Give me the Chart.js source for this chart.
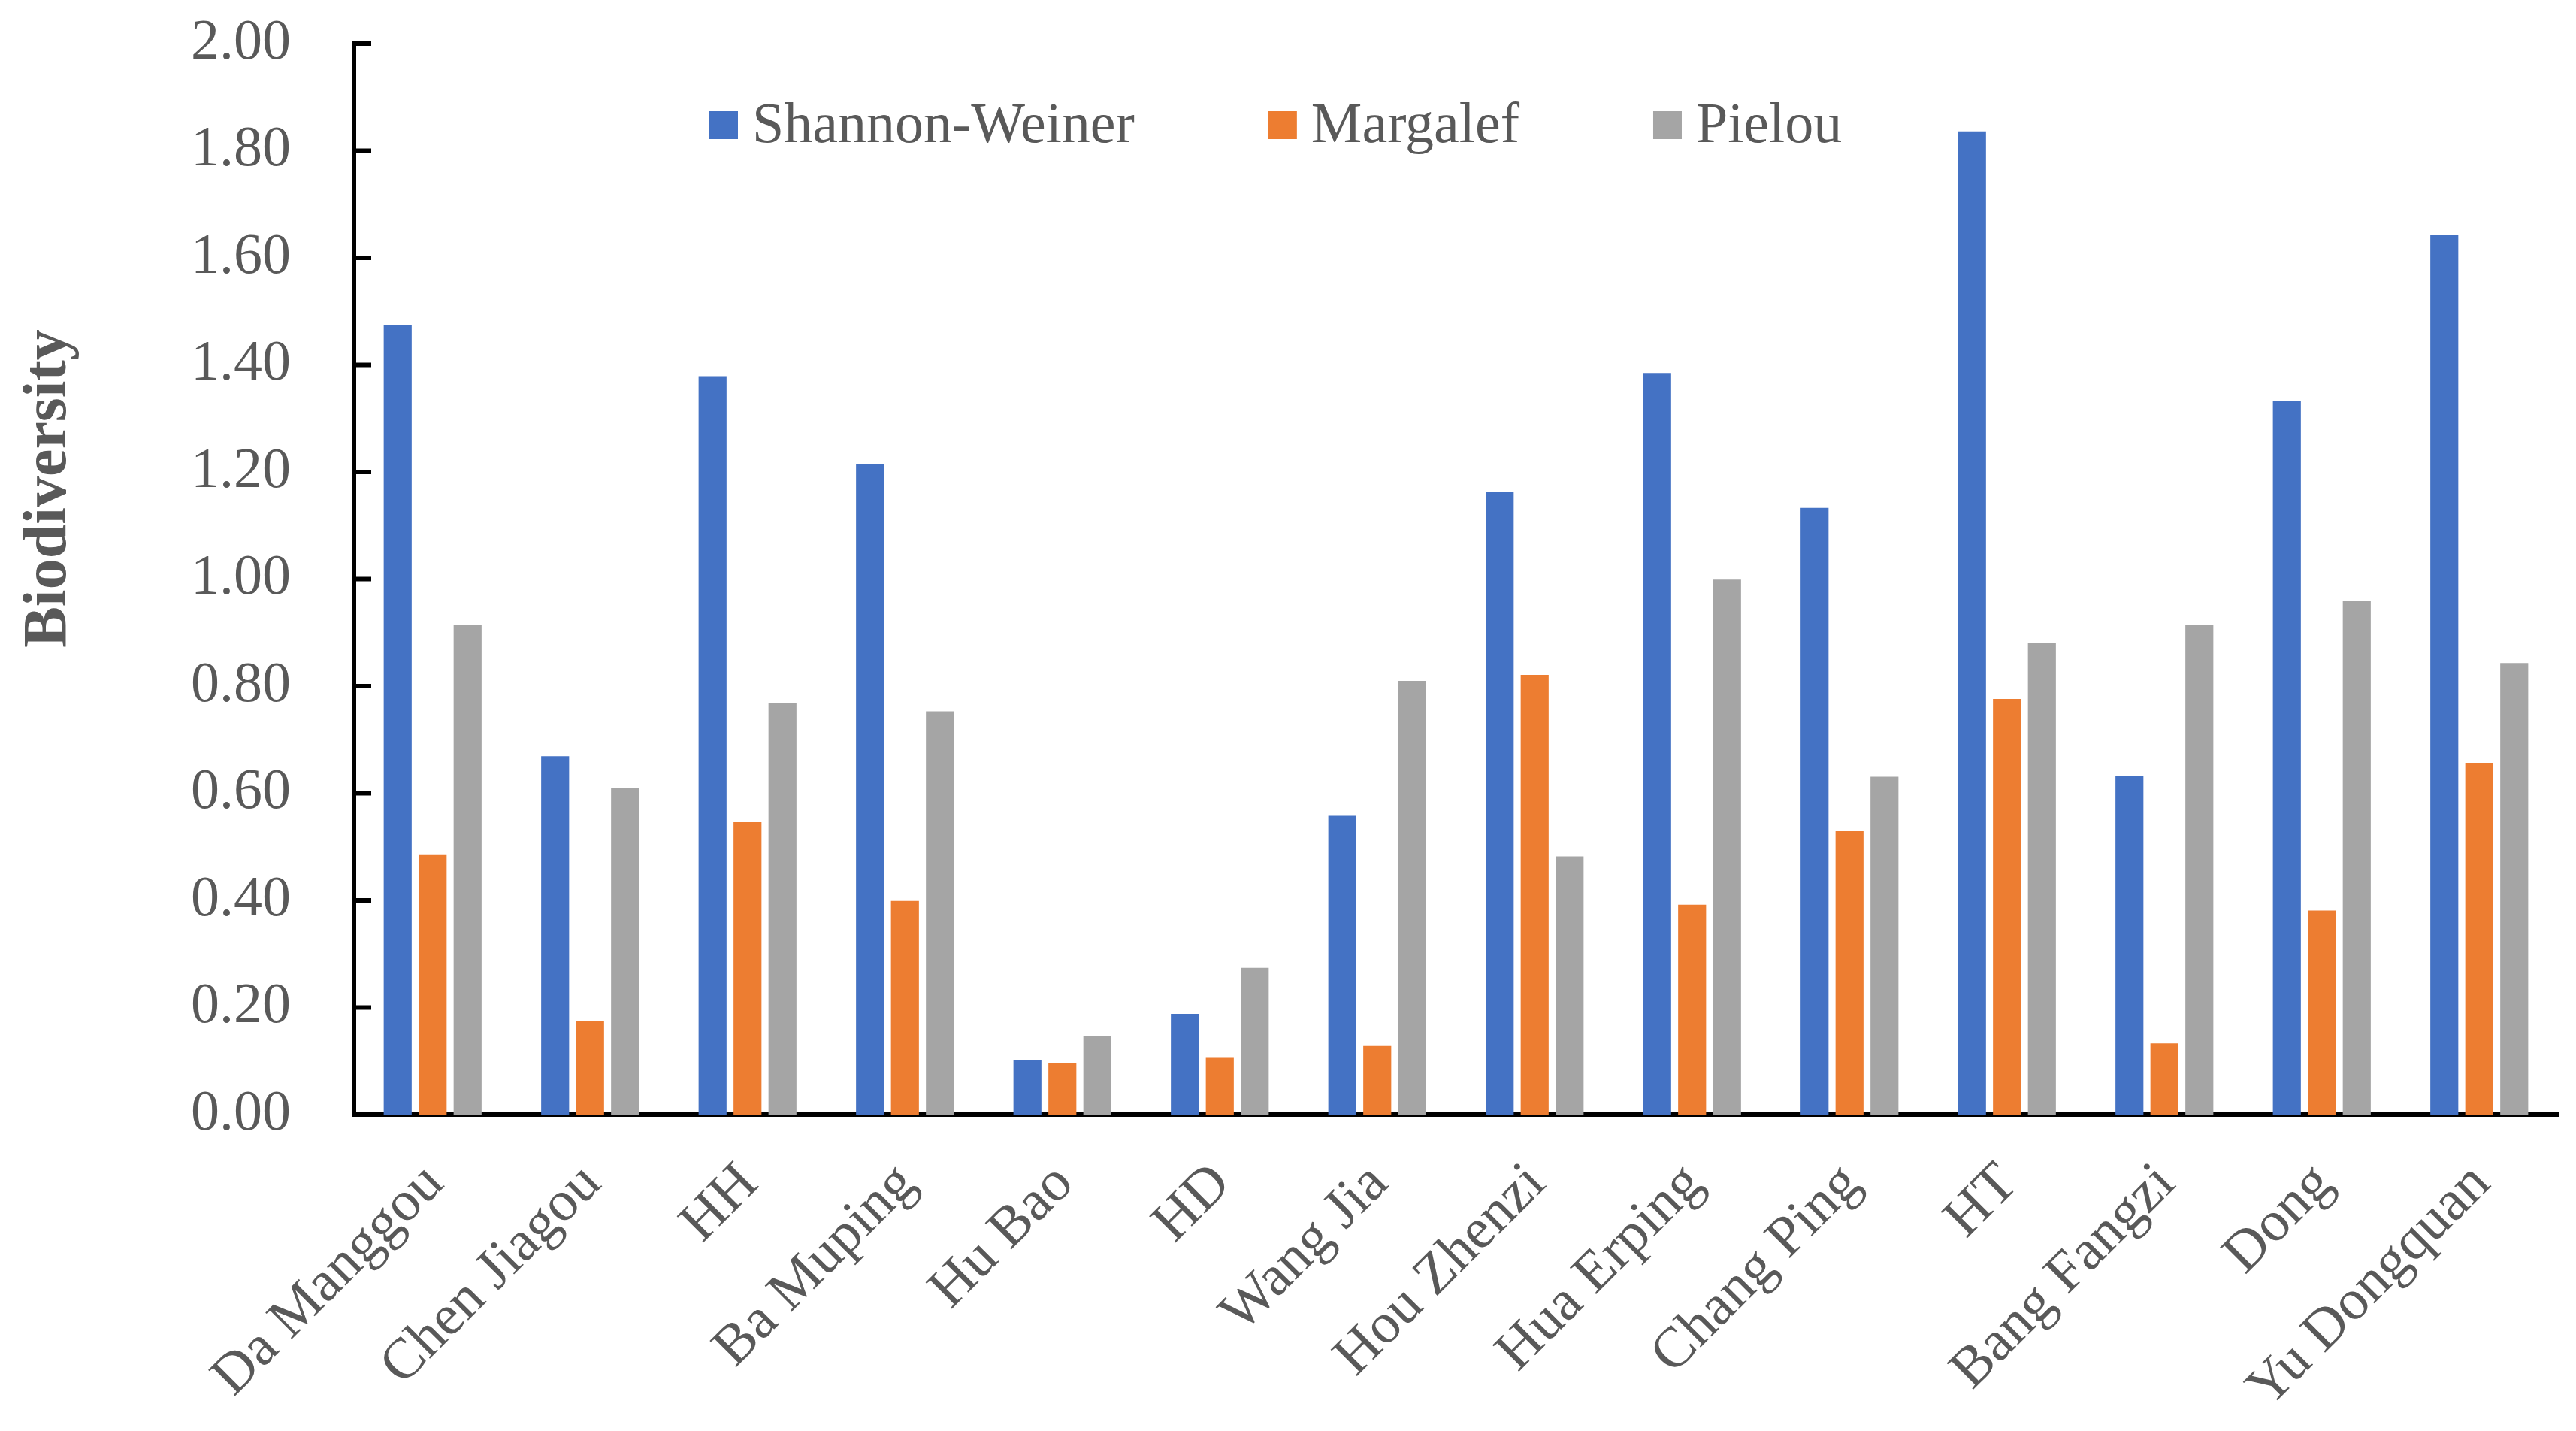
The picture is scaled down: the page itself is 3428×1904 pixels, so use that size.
<!DOCTYPE html>
<html>
<head>
<meta charset="utf-8">
<script src="https://cdn.jsdelivr.net/npm/chart.js@4.4.1/dist/chart.umd.min.js"></script>
<style>
  html, body { margin: 0; padding: 0; background: #ffffff; }
  canvas { display: block; }
</style>
</head>
<body>
<canvas id="c" width="3428" height="1904" style="width:3428px;height:1904px"></canvas>
<script>
const categories = ["Da Manggou", "Chen Jiagou", "HH", "Ba Muping", "Hu Bao", "HD", "Wang Jia", "Hou Zhenzi", "Hua Erping", "Chang Ping", "HT", "Bang Fangzi", "Dong", "Yu Dongquan"];
const seriesNames = ["Shannon-Weiner", "Margalef", "Pielou"];
const shannon = [1.475, 0.669, 1.379, 1.214, 0.101, 0.188, 0.558, 1.163, 1.385, 1.133, 1.836, 0.633, 1.332, 1.642];
const margalef = [0.486, 0.174, 0.546, 0.399, 0.096, 0.106, 0.128, 0.821, 0.392, 0.529, 0.776, 0.133, 0.381, 0.657];
const pielou = [0.914, 0.610, 0.768, 0.753, 0.147, 0.274, 0.810, 0.482, 0.999, 0.631, 0.881, 0.915, 0.960, 0.843];
const yTickValues = [0, 0.2, 0.4, 0.6, 0.8, 1.0, 1.2, 1.4, 1.6, 1.8, 2.0];
const yTitle = "Biodiversity";

const colors = ["#4472C4", "#ED7D31", "#A5A5A5"];
const textColor = "#595959";
const FONT = "'Liberation Serif', 'Times New Roman', serif";

const insideTicks = {
  id: 'insideTicks',
  afterDraw(chart) {
    const ctx = chart.ctx, y = chart.scales.y, left = chart.chartArea.left;
    ctx.save();
    ctx.strokeStyle = '#000';
    ctx.lineWidth = 6;
    yTickValues.forEach(v => {
      const py = y.getPixelForValue(v);
      ctx.beginPath();
      ctx.moveTo(left, py);
      ctx.lineTo(left + 23, py);
      ctx.stroke();
    });
    ctx.restore();
  }
};

const yTitlePlugin = {
  id: 'yTitlePlugin',
  afterDraw(chart) {
    const ctx = chart.ctx;
    ctx.save();
    ctx.translate(66, 650);
    ctx.rotate(-Math.PI / 2);
    ctx.font = "bold 82px " + FONT;
    ctx.fillStyle = textColor;
    ctx.textAlign = 'center';
    ctx.textBaseline = 'middle';
    ctx.fillText(yTitle, 0, 0);
    ctx.restore();
  }
};

const floatLegend = {
  id: 'floatLegend',
  afterDraw(chart) {
    const ctx = chart.ctx;
    ctx.save();
    ctx.font = "76px " + FONT;
    ctx.textBaseline = 'middle';
    ctx.textAlign = 'left';
    let x = 944;
    const cy = 167;
    chart.data.datasets.forEach(ds => {
      ctx.fillStyle = ds.backgroundColor;
      ctx.fillRect(x, cy - 19, 38, 37);
      ctx.fillStyle = textColor;
      ctx.fillText(ds.label, x + 57, cy + 2);
      x += 57 + ctx.measureText(ds.label).width + 178;
    });
    ctx.restore();
  }
};

new Chart(document.getElementById('c'), {
  type: 'bar',
  data: {
    labels: categories,
    datasets: [
      { label: seriesNames[0], data: shannon, backgroundColor: colors[0] },
      { label: seriesNames[1], data: margalef, backgroundColor: colors[1] },
      { label: seriesNames[2], data: pielou, backgroundColor: colors[2] }
    ]
  },
  options: {
    responsive: false,
    devicePixelRatio: 1,
    animation: false,
    layout: { padding: { left: 0, right: 24, top: 58, bottom: 0 } },
    datasets: { bar: { categoryPercentage: 0.666, barPercentage: 0.8 } },
    plugins: { legend: { display: false }, tooltip: { enabled: false } },
    scales: {
      x: {
        grid: { display: false },
        border: { display: true, color: '#000', width: 6 },
        ticks: {
          color: textColor,
          font: { family: FONT, size: 76 },
          maxRotation: 45, minRotation: 45,
          autoSkip: false,
          padding: 40,
          labelOffset: 3
        },
        afterFit(scale) { scale.height = 421; scale.paddingLeft = 0; scale.paddingRight = 0; }
      },
      y: {
        min: 0, max: 2,
        grid: { display: false },
        border: { display: true, color: '#000', width: 6 },
        ticks: {
          stepSize: 0.2,
          color: textColor,
          font: { family: FONT, size: 76 },
          padding: 76,
          callback: v => Number(v).toFixed(2)
        },
        afterFit(scale) { scale.width = 471; scale.paddingTop = 0; scale.paddingBottom = 0; }
      }
    }
  },
  plugins: [insideTicks, yTitlePlugin, floatLegend]
});
</script>
</body>
</html>
